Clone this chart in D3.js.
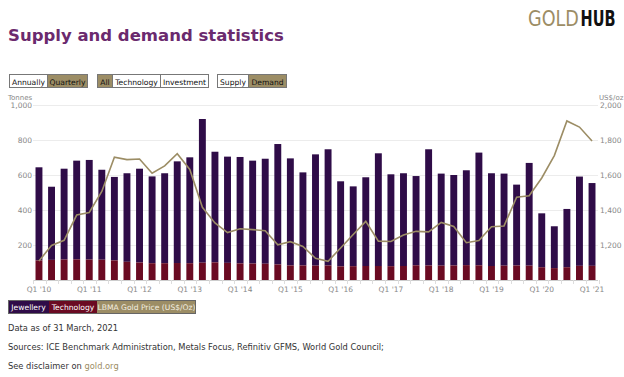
<!DOCTYPE html>
<html>
<head>
<meta charset="utf-8">
<script src="https://cdn.jsdelivr.net/npm/d3@7"></script>
<style>
  body { margin: 0; background: #fff; }
  svg { display: block; font-family: "DejaVu Sans", sans-serif; }
</style>
</head>
<body>
<svg width="624" height="377"></svg>
<script>
// quarterly demand, tonnes, Q1 '10 .. Q1 '21
var quarters = [];
for (var y = 10; y <= 21; y++) {
  for (var q = 1; q <= 4; q++) {
    if (y == 21 && q > 1) break;
    quarters.push("Q" + q + " '" + y);
  }
}
var technology = [112, 115, 117, 118, 117, 116, 112, 104, 100, 96, 96, 97,
                  96, 99, 101, 98, 95, 94, 93, 89, 83, 83, 82, 83,
                  78, 79, 80, 80, 79, 80, 84, 83, 82, 83, 85, 84,
                  80, 82, 83, 82, 73, 68, 73, 81, 81];
var totals = [644, 533, 636, 682, 686, 630, 589, 610, 636, 592, 610, 678,
              701, 920, 733, 705, 703, 682, 693, 777, 695, 615, 718, 747,
              564, 535, 587, 724, 604, 610, 594, 747, 608, 600, 627, 728,
              610, 608, 545, 669, 381, 307, 406, 591, 554];
var jewellery = totals.map(function(t, i) { return t - technology[i]; });
var goldPrice = [1109, 1197, 1227, 1371, 1386, 1506, 1702, 1688, 1691, 1610, 1652, 1722,
                 1632, 1415, 1326, 1271, 1293, 1288, 1282, 1201, 1219, 1192, 1124, 1107,
                 1183, 1260, 1335, 1222, 1220, 1257, 1278, 1275, 1329, 1306, 1213, 1226,
                 1304, 1309, 1473, 1481, 1583, 1711, 1909, 1874, 1794];
var leftTicks = [200, 400, 600, 800, 1000];
var rightTicks = [1200, 1400, 1600, 1800, 2000];

var colJew = "#2f0c48", colTech = "#6a0a22", colGold = "#9c8d65";

var svg = d3.select("svg");

// header logo (squeezed to look like the condensed logo face)
svg.append("g").attr("transform", "translate(528,26) scale(0.8,1)")
   .append("text").attr("font-size", 22).attr("fill", colGold).text("GOLD");
svg.append("g").attr("transform", "translate(580.5,26) scale(0.66,1)")
   .append("text").attr("font-size", 22).attr("font-weight", "bold").attr("fill", "#111").text("HUB");

svg.append("text").attr("x", 8).attr("y", 41)
   .attr("font-size", 16.5).attr("font-weight", "bold").attr("fill", "#6b2a6e")
   .text("Supply and demand statistics");

// toggle buttons
var buttons = [
  [["Annually", 9, 47, false], ["Quarterly", 47, 87, true]],
  [["All", 97, 112, true], ["Technology", 112, 160, false], ["Investment", 160, 208, false]],
  [["Supply", 217, 248, false], ["Demand", 248, 286, true]]
];
buttons.forEach(function(grp) {
  grp.forEach(function(b) {
    var g = svg.append("g");
    g.append("rect").attr("x", b[1] + 0.5).attr("y", 74.5).attr("width", b[2] - b[1]).attr("height", 13)
     .attr("fill", b[3] ? colGold : "#fff").attr("stroke", "#777").attr("stroke-width", 1);
    g.append("text").attr("x", (b[1] + b[2]) / 2 + 0.5).attr("y", 84.5)
     .attr("text-anchor", "middle").attr("font-size", 7.6).attr("fill", "#111").text(b[0]);
  });
});

// chart
var x = d3.scaleBand().domain(quarters).range([33, 598]).paddingInner(0.45).paddingOuter(0.2);
var yL = d3.scaleLinear().domain([0, 1000]).range([280, 105]);
var yR = d3.scaleLinear().domain([1000, 2000]).range([280, 105]);

svg.append("g").selectAll("line").data(leftTicks).enter().append("line")
   .attr("x1", 33).attr("x2", 598)
   .attr("y1", function(d) { return yL(d) + 0.5; }).attr("y2", function(d) { return yL(d) + 0.5; })
   .attr("stroke", "#ececec");

svg.append("g").selectAll("text").data(leftTicks).enter().append("text")
   .attr("x", 32).attr("y", function(d) { return yL(d) + 2.5; })
   .attr("text-anchor", "end").attr("font-size", 7.5).attr("fill", "#888")
   .text(d3.format(","));
svg.append("g").selectAll("text").data(rightTicks).enter().append("text")
   .attr("x", 600).attr("y", function(d) { return yR(d) + 2.5; })
   .attr("font-size", 7.5).attr("fill", "#888")
   .text(d3.format(","));
svg.append("text").attr("x", 8).attr("y", 100).attr("font-size", 7).attr("fill", "#888").text("Tonnes");
svg.append("text").attr("x", 599).attr("y", 100).attr("font-size", 7).attr("fill", "#888").text("US$/oz");

var bw = x.bandwidth();
var bars = svg.append("g");
bars.selectAll(".jew").data(quarters).enter().append("rect")
    .attr("x", function(d) { return x(d); })
    .attr("width", bw)
    .attr("y", function(d, i) { return yL(totals[i]); })
    .attr("height", function(d, i) { return yL(technology[i]) - yL(totals[i]); })
    .attr("fill", colJew);
bars.selectAll(".tech").data(quarters).enter().append("rect")
    .attr("x", function(d) { return x(d); })
    .attr("width", bw)
    .attr("y", function(d, i) { return yL(technology[i]); })
    .attr("height", function(d, i) { return yL(0) - yL(technology[i]); })
    .attr("fill", colTech);

// x axis
svg.append("line").attr("x1", 33).attr("x2", 598).attr("y1", 280.5).attr("y2", 280.5).attr("stroke", "#ccc");
var step = x.step();
svg.append("g").selectAll("line").data(d3.range(quarters.length + 1)).enter().append("line")
   .attr("x1", function(i) { return Math.round(33 + i * step) + 0.5; })
   .attr("x2", function(i) { return Math.round(33 + i * step) + 0.5; })
   .attr("y1", 280).attr("y2", 284).attr("stroke", "#ddd");
svg.append("g").selectAll("text").data(quarters.filter(function(d, i) { return i % 4 == 0; }))
   .enter().append("text")
   .attr("x", function(d) { return x(d) + bw / 2; }).attr("y", 292)
   .attr("text-anchor", "middle").attr("font-size", 7.5).attr("fill", "#888")
   .text(function(d) { return d; });

// price line
var line = d3.line()
  .x(function(d, i) { return x(quarters[i]) + bw / 2; })
  .y(function(d) { return yR(d); });
svg.append("path").datum(goldPrice).attr("d", line)
   .attr("fill", "none").attr("stroke", colGold).attr("stroke-width", 1.6);

// legend
var legend = [["Jewellery", 8, 49, colJew, "#fff"], ["Technology", 49, 97, colTech, "#fff"],
              ["LBMA Gold Price (US$/Oz)", 97, 196, colGold, "#f4efe2"]];
legend.forEach(function(l) {
  svg.append("rect").attr("x", l[1]).attr("y", 300).attr("width", l[2] - l[1]).attr("height", 14)
     .attr("fill", l[3]);
  svg.append("text").attr("x", (l[1] + l[2]) / 2).attr("y", 310)
     .attr("text-anchor", "middle").attr("font-size", 7.6).attr("fill", l[4]).text(l[0]);
});
svg.append("rect").attr("x", 8.5).attr("y", 300.5).attr("width", 187).attr("height", 13)
   .attr("fill", "none").attr("stroke", "#666").attr("stroke-width", 1);

// footer
svg.append("text").attr("x", 8).attr("y", 331).attr("font-size", 8.3).attr("fill", "#333")
   .text("Data as of 31 March, 2021");
svg.append("text").attr("x", 8).attr("y", 350).attr("font-size", 8.3).attr("fill", "#333")
   .text("Sources: ICE Benchmark Administration, Metals Focus, Refinitiv GFMS, World Gold Council;");
svg.append("text").attr("x", 8).attr("y", 369).attr("font-size", 8.3).attr("fill", "#333")
   .html('See disclaimer on <tspan fill="' + colGold + '">gold.org</tspan>');
</script>
</body>
</html>
